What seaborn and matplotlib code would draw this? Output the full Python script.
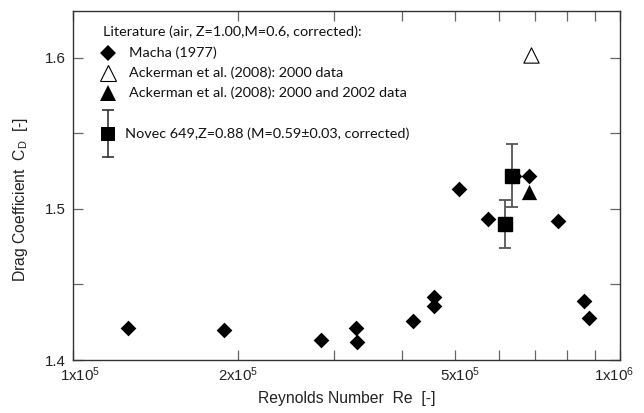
import matplotlib
matplotlib.use("Agg")
import matplotlib.pyplot as plt
import matplotlib.ticker as mticker
import matplotlib.transforms as mtransforms
import pandas as pd
import seaborn as sns

# Macha (1977)
macha_re = [1.26e5, 1.89e5, 2.84e5, 3.29e5, 3.31e5, 4.18e5, 4.57e5, 4.57e5,
            5.08e5, 5.74e5, 6.40e5, 6.82e5, 7.71e5, 8.59e5, 8.77e5]
macha_cd = [1.421, 1.420, 1.413, 1.421, 1.412, 1.426, 1.442, 1.436,
            1.513, 1.493, 1.522, 1.522, 1.492, 1.439, 1.428]

# Ackerman et al. (2008)
ack2000_re = [6.87e5]
ack2000_cd = [1.602]
ack2002_re = [6.82e5]
ack2002_cd = [1.5115]

# Novec 649 measurements with uncertainty
novec_re = [6.17e5, 6.34e5]
novec_cd = [1.490, 1.522]
novec_err = [0.016, 0.021]

x_ticks = [1e5, 2e5, 5e5, 1e6]
x_ticklabels = [r"1x10$^5$", r"2x10$^5$", r"5x10$^5$", r"1x10$^6$"]
x_minor = [3e5, 4e5, 6e5, 7e5, 8e5, 9e5]
y_ticks = [1.4, 1.5, 1.6]
y_ticklabels = ["1.4", "1.5", "1.6"]
y_minor = [1.45, 1.55]

legend_title = "Literature (air, Z=1.00,M=0.6, corrected):"
legend_labels = ["Macha (1977)",
                 "Ackerman et al. (2008): 2000 data",
                 "Ackerman et al. (2008): 2000 and 2002 data",
                 "Novec 649,Z=0.88 (M=0.59\u00b10.03, corrected)"]

sns.set_style("ticks")
plt.rcParams["font.family"] = ["Liberation Sans", "DejaVu Sans"]
plt.rcParams["mathtext.fontset"] = "custom"
plt.rcParams["mathtext.rm"] = "Liberation Sans"
plt.rcParams["mathtext.it"] = "Liberation Sans:italic"

W, H = 644, 413
fig = plt.figure(figsize=(W / 100, H / 100), dpi=100)
ax = fig.add_axes([73 / W, 53 / H, 547 / W, 349 / H])

df_macha = pd.DataFrame({"Re": macha_re, "Cd": macha_cd})
df_a0 = pd.DataFrame({"Re": ack2000_re, "Cd": ack2000_cd})
df_a2 = pd.DataFrame({"Re": ack2002_re, "Cd": ack2002_cd})

sns.scatterplot(data=df_macha, x="Re", y="Cd", marker="D", s=64,
                color="black", edgecolor="black", linewidth=0, ax=ax, zorder=3)
sns.scatterplot(data=df_a0, x="Re", y="Cd", marker="^", s=121,
                facecolor="white", edgecolor="black", linewidth=0.8, ax=ax, zorder=3)
sns.scatterplot(data=df_a2, x="Re", y="Cd", marker="^", s=121,
                color="black", edgecolor="black", linewidth=0, ax=ax, zorder=3)
ax.errorbar(novec_re, novec_cd, yerr=novec_err, fmt="s", ms=9.4,
            color="black", ecolor="#555555", elinewidth=1.3,
            capsize=4.5, capthick=1.3, zorder=4)

ax.set_xscale("log")
ax.set_xlim(1e5, 1e6)
ax.set_ylim(1.4, 1.631)

ax.xaxis.set_major_locator(mticker.FixedLocator(x_ticks))
ax.xaxis.set_major_formatter(mticker.FixedFormatter(x_ticklabels))
ax.xaxis.set_minor_locator(mticker.FixedLocator(x_minor))
ax.xaxis.set_minor_formatter(mticker.NullFormatter())
ax.yaxis.set_major_locator(mticker.FixedLocator(y_ticks))
ax.yaxis.set_major_formatter(mticker.FixedFormatter(y_ticklabels))
ax.yaxis.set_minor_locator(mticker.FixedLocator(y_minor))
ax.yaxis.set_minor_formatter(mticker.NullFormatter())

ax.tick_params(which="both", direction="in", top=True, right=True,
               length=7.5, width=0.9, color="#666666", labelsize=10.8,
               labelcolor="#222222")
ax.tick_params(axis="x", pad=4)
ax.tick_params(axis="y", pad=5)
for sp in ax.spines.values():
    sp.set_color("#333333")
    sp.set_linewidth(1.0)

# keep the end labels inside the frame
labels = ax.get_xticklabels()
labels[0].set_transform(labels[0].get_transform()
                        + mtransforms.ScaledTranslation(7 / 100, 0, fig.dpi_scale_trans))
labels[-1].set_transform(labels[-1].get_transform()
                         + mtransforms.ScaledTranslation(-6 / 100, 0, fig.dpi_scale_trans))
labels[2].set_transform(labels[2].get_transform()
                        + mtransforms.ScaledTranslation(5 / 100, 0, fig.dpi_scale_trans))

ax.set_xlabel("Reynolds Number  Re  [-]", fontsize=11.3, color="#222222", labelpad=5)
ax.set_ylabel(r"Drag Coefficient  $\mathrm{C}_\mathrm{D}$  [-]", fontsize=11.3,
              color="#222222", labelpad=10)
ax.yaxis.set_label_coords(-0.078, 0.46)

# hand-placed legend block (axes-fraction coordinates)
def axf(px, py):
    return (px - 73) / 547, (360 - py) / 349

lfont = dict(family=["Lato", "DejaVu Sans"], fontsize=10.4, color="#111111",
             va="center", ha="left", transform=ax.transAxes)
tx, ty = axf(103, 32)
ax.text(tx, ty, legend_title, **lfont)

mx, _ = axf(108, 0)
lx, _ = axf(129, 0)
_, y1 = axf(0, 53)
_, y2 = axf(0, 73)
_, y3 = axf(0, 93)
ax.plot([mx], [y1], marker="D", ms=8, color="black", mew=0,
        transform=ax.transAxes, clip_on=False)
ax.plot([mx], [y2], marker="^", ms=11, mfc="white", mec="black", mew=0.8,
        transform=ax.transAxes, clip_on=False)
ax.plot([mx], [y3], marker="^", ms=11, color="black", mew=0,
        transform=ax.transAxes, clip_on=False)
ax.text(lx, y1, legend_labels[0], **lfont)
ax.text(lx, y2, legend_labels[1], **lfont)
ax.text(lx, y3, legend_labels[2], **lfont)

_, ye = axf(0, 133.5)
_, ytop = axf(0, 110)
_, ybot = axf(0, 157)
ax.plot([mx, mx], [ybot, ytop], color="#333333", lw=1.2,
        transform=ax.transAxes, clip_on=False)
ax.plot([mx, mx], [ybot, ytop], ls="none", marker="_", ms=9, mew=1.2,
        color="#333333", transform=ax.transAxes, clip_on=False)
ax.plot([mx], [ye], marker="s", ms=9.4, color="black", mew=0,
        transform=ax.transAxes, clip_on=False)
nx, _ = axf(125, 0)
ax.text(nx, ye, legend_labels[3], **lfont)

fig.savefig("out.png", dpi=100)
